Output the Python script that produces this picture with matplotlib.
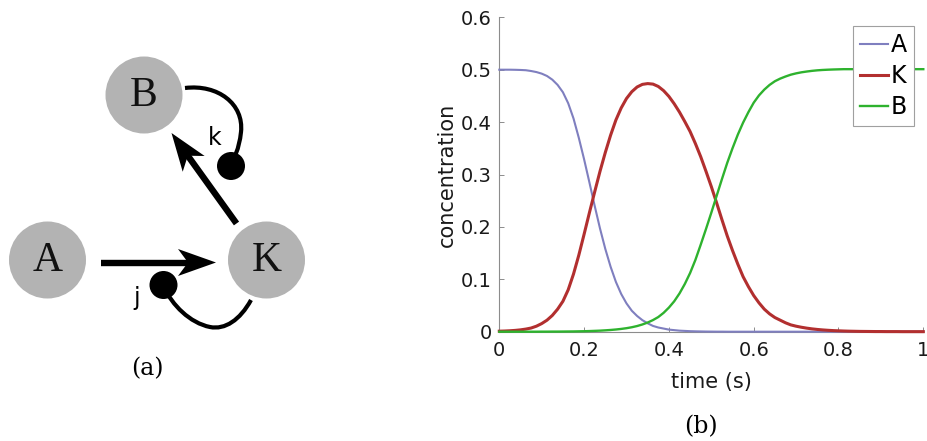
import numpy as np
import matplotlib
matplotlib.use("Agg")
import matplotlib.pyplot as plt
from matplotlib.patches import Circle, Polygon, PathPatch
from matplotlib.path import Path

# ---------------- data ----------------
time = [round(0.0125 * i, 4) for i in range(81)]

conc_A = [0.500, 0.500, 0.500, 0.4998, 0.4995, 0.499, 0.4975, 0.4955, 0.4925, 0.488,
          0.481, 0.471, 0.457, 0.436, 0.407, 0.370, 0.329, 0.285, 0.240, 0.197,
          0.158, 0.124, 0.095, 0.072, 0.054, 0.040, 0.030, 0.022, 0.016, 0.011,
          0.008, 0.006, 0.004, 0.003, 0.002, 0.0015, 0.001, 0.0007, 0.0005, 0.0003,
          0.0002, 0.0001, 0.0001, 0.0, 0.0, 0.0, 0.0, 0.0, 0.0, 0.0,
          0.0, 0.0, 0.0, 0.0, 0.0, 0.0, 0.0, 0.0, 0.0, 0.0,
          0.0, 0.0, 0.0, 0.0, 0.0, 0.0, 0.0, 0.0, 0.0, 0.0,
          0.0, 0.0, 0.0, 0.0, 0.0, 0.0, 0.0, 0.0, 0.0, 0.0,
          0.0]

conc_K = [0.001, 0.0013, 0.0018, 0.0025, 0.0035, 0.005, 0.007, 0.0105, 0.0155, 0.022,
          0.031, 0.043, 0.058, 0.080, 0.110, 0.146, 0.186, 0.227, 0.267, 0.306,
          0.342, 0.375, 0.404, 0.427, 0.445, 0.458, 0.467, 0.472, 0.4735, 0.4725,
          0.468, 0.460, 0.449, 0.435, 0.419, 0.401, 0.382, 0.359, 0.334, 0.306,
          0.277, 0.246, 0.214, 0.183, 0.155, 0.129, 0.105, 0.086, 0.069, 0.055,
          0.043, 0.034, 0.027, 0.022, 0.017, 0.013, 0.0105, 0.0085, 0.0068, 0.0054,
          0.0043, 0.0034, 0.0027, 0.0021, 0.0017, 0.0013, 0.001, 0.0008, 0.0006, 0.0005,
          0.0004, 0.0003, 0.0003, 0.0002, 0.0002, 0.0002, 0.0001, 0.0001, 0.0001, 0.0001,
          0.0001]

conc_B = [0.0, 0.0, 0.0, 0.0, 0.0, 0.0, 0.0, 0.0, 0.0001, 0.0001,
          0.0002, 0.0002, 0.0003, 0.0004, 0.0005, 0.0007, 0.0009, 0.0012, 0.0016, 0.002,
          0.0026, 0.0033, 0.0042, 0.0053, 0.0067, 0.0085, 0.0108, 0.0138, 0.0175, 0.0222,
          0.028, 0.036, 0.046, 0.058, 0.073, 0.091, 0.112, 0.137, 0.166, 0.196,
          0.227, 0.259, 0.291, 0.322, 0.350, 0.376, 0.399, 0.419, 0.437, 0.451,
          0.462, 0.471, 0.478, 0.483, 0.487, 0.4905, 0.493, 0.495, 0.4965, 0.4978,
          0.4988, 0.4995, 0.500, 0.5004, 0.5007, 0.501, 0.501, 0.501, 0.501, 0.501,
          0.501, 0.501, 0.501, 0.501, 0.501, 0.501, 0.501, 0.501, 0.501, 0.501,
          0.501]

series_names = ["A", "K", "B"]
series_colors = ["#7f7fbf", "#b22f2f", "#2eb22e"]
series_widths = [1.5, 2.2, 1.7]

x_ticks = [0, 0.2, 0.4, 0.6, 0.8, 1]
x_ticklabels = ["0", "0.2", "0.4", "0.6", "0.8", "1"]
y_ticks = [0, 0.1, 0.2, 0.3, 0.4, 0.5, 0.6]
y_ticklabels = ["0", "0.1", "0.2", "0.3", "0.4", "0.5", "0.6"]

plt.rcParams['font.family'] = ['DejaVu Sans']

W, H = 928, 441
fig = plt.figure(figsize=(W / 100, H / 100), dpi=100)

# ---------------- panel (a): diagram in pixel coordinates ----------------
axd = fig.add_axes([0, 0, 1, 1])
axd.set_xlim(0, W)
axd.set_ylim(H, 0)
axd.axis("off")

node_color = "#b3b3b3"
nodes = {"A": (47.5, 260.0), "K": (266.5, 260.0), "B": (144.0, 95.0)}
for name, (cx, cy) in nodes.items():
    axd.add_patch(Circle((cx, cy), 38.5, facecolor=node_color, edgecolor="none"))
    axd.text(cx, cy + 1, name, ha="center", va="center", fontsize=30,
             family="Liberation Serif", color="#111111")


def arrow(p0, tip, lw=4.6, head_len=38, head_half=13.5, notch=28):
    p0 = np.array(p0, float)
    tip = np.array(tip, float)
    d = tip - p0
    u = d / np.hypot(*d)
    n = np.array([-u[1], u[0]])
    shaft_end = tip - u * (notch - 2)
    axd.plot([p0[0], shaft_end[0]], [p0[1], shaft_end[1]], color="black",
             lw=lw, solid_capstyle="butt")
    back = tip - u * head_len
    pts = [tip, back + n * head_half, tip - u * notch, back - n * head_half]
    axd.add_patch(Polygon(pts, closed=True, facecolor="black", edgecolor="none"))


arrow((101.5, 262.5), (216.0, 262.5))
arrow((236.5, 223.5), (171.5, 133.0))

# B -> k curve
p1 = Path([(185, 88), (218, 84), (244, 104), (241, 132), (239, 150), (234, 158), (231, 164)],
          [Path.MOVETO, Path.CURVE4, Path.CURVE4, Path.CURVE4, Path.CURVE4, Path.CURVE4, Path.CURVE4])
axd.add_patch(PathPatch(p1, facecolor="none", edgecolor="black", lw=3.0))
axd.add_patch(Circle((231, 166), 14, facecolor="black", edgecolor="none"))
axd.text(215, 138, "k", ha="center", va="center", fontsize=17, family="DejaVu Sans")

# K -> j curve
p2 = Path([(251, 300), (240, 320), (225, 330), (210, 327), (190, 323), (172, 305), (164, 287)],
          [Path.MOVETO, Path.CURVE4, Path.CURVE4, Path.CURVE4, Path.CURVE4, Path.CURVE4, Path.CURVE4])
axd.add_patch(PathPatch(p2, facecolor="none", edgecolor="black", lw=3.0))
axd.add_patch(Circle((163.5, 285), 14, facecolor="black", edgecolor="none"))
axd.text(137, 298, "j", ha="center", va="center", fontsize=17, family="DejaVu Sans")

axd.text(147, 369, "(a)", ha="center", va="center", fontsize=17, family="DejaVu Serif")
axd.text(701, 427, "(b)", ha="center", va="center", fontsize=17, family="DejaVu Serif")

# ---------------- panel (b): concentration plot ----------------
left, right, top, bottom = 499.3, 923.3, 17.3, 331.7
ax = fig.add_axes([left / W, (H - bottom) / H, (right - left) / W, (bottom - top) / H])
ax.set_facecolor("none")

for vals, name, col, lw in zip([conc_A, conc_K, conc_B], series_names, series_colors, series_widths):
    ax.plot(time, vals, color=col, lw=lw, label=name, clip_on=False, zorder=3)

ax.set_xlim(0, 1)
ax.set_ylim(0, 0.6)
ax.set_xticks(x_ticks)
ax.set_xticklabels(x_ticklabels)
ax.set_yticks(y_ticks)
ax.set_yticklabels(y_ticklabels)
for s in ["top", "right"]:
    ax.spines[s].set_visible(False)
for s in ["left", "bottom"]:
    ax.spines[s].set_color("#8c8c8c")
    ax.spines[s].set_linewidth(0.8)
ax.tick_params(direction="in", length=3.5, width=0.7, color="#8c8c8c",
               labelsize=14, labelcolor="#1a1a1a")
ax.tick_params(axis="x", pad=7)
ax.tick_params(axis="y", pad=5.5)
ax.set_xlabel("time (s)", fontsize=15, color="#1a1a1a", labelpad=8)
ax.set_ylabel("concentration", fontsize=15, color="#1a1a1a", labelpad=3)

leg = ax.legend(loc="upper right", bbox_to_anchor=(0.978, 0.972), fontsize=17,
                frameon=True, fancybox=False, framealpha=1, edgecolor="#a0a0a0",
                handlelength=1.2, handletextpad=0.1, borderpad=0.3,
                labelspacing=0.3, borderaxespad=0)
leg.get_frame().set_linewidth(0.8)
leg.set_zorder(5)

fig.savefig("out.png", dpi=100)
